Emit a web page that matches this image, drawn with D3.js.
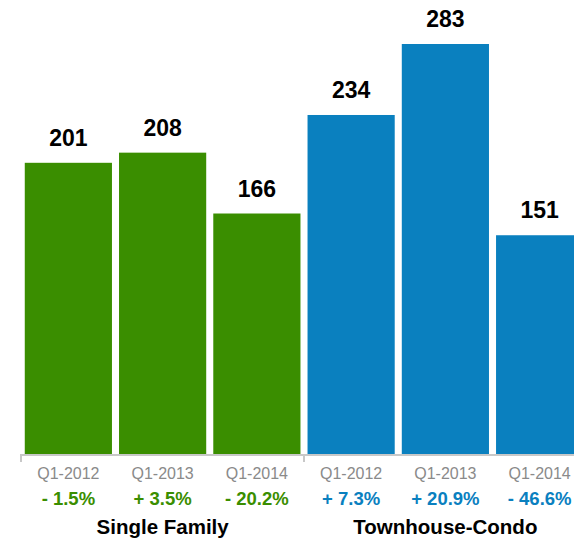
<!DOCTYPE html>
<html>
<head>
<meta charset="utf-8">
<script src="https://cdnjs.cloudflare.com/ajax/libs/d3/7.8.5/d3.min.js"></script>
<style>
  body { margin: 0; background: #fff; }
  .chart { width: 574px; height: 542px; overflow: hidden; }
  text { font-family: Helvetica, "Liberation Sans", Arial, sans-serif; }
</style>
</head>
<body>
<div class="chart"></div>
<script>
var groups = ["Single Family", "Townhouse-Condo"];
var quarters = ["Q1-2012", "Q1-2013", "Q1-2014"];
var singleFamily = [201, 208, 166];
var townhouseCondo = [234, 283, 151];
var sfChange = ["- 1.5%", "+ 3.5%", "- 20.2%"];
var tcChange = ["+ 7.3%", "+ 20.9%", "- 46.6%"];
var groupColors = ["#3a8e00", "#0a80bf"];

var data = [];
quarters.forEach(function(q, i) {
  data.push({key: "sf" + i, group: 0, quarter: q, value: singleFamily[i], change: sfChange[i]});
});
quarters.forEach(function(q, i) {
  data.push({key: "tc" + i, group: 1, quarter: q, value: townhouseCondo[i], change: tcChange[i]});
});

var width = 574, height = 542, baseline = 454;

var svg = d3.select(".chart").append("svg")
    .attr("width", width).attr("height", height);

var x = d3.scaleBand()
    .domain(data.map(function(d) { return d.key; }))
    .range([21, 587])
    .paddingInner(0.075)
    .paddingOuter(0.04);

var y = d3.scaleLinear().domain([0, 283]).range([baseline, 44]);

svg.selectAll(".bar")
  .data(data)
  .enter().append("rect")
    .attr("class", "bar")
    .attr("x", function(d) { return x(d.key); })
    .attr("y", function(d) { return y(d.value); })
    .attr("width", x.bandwidth())
    .attr("height", function(d) { return baseline - y(d.value); })
    .attr("fill", function(d) { return groupColors[d.group]; });

svg.selectAll(".value")
  .data(data)
  .enter().append("text")
    .attr("class", "value")
    .attr("x", function(d) { return x(d.key) + x.bandwidth() / 2; })
    .attr("y", function(d) { return y(d.value) - 17; })
    .attr("text-anchor", "middle")
    .style("font-size", "23px")
    .style("font-weight", "bold")
    .attr("fill", "#000")
    .text(function(d) { return d.value; });

// axis line + group ticks
var axis = svg.append("g").attr("stroke", "#c8c8c8").attr("stroke-width", 2);
axis.append("line").attr("x1", 20).attr("x2", width).attr("y1", 455).attr("y2", 455);
var tickX = [21, (x("sf2") + x.bandwidth() + x("tc0")) / 2];
axis.selectAll(".tick")
  .data(tickX)
  .enter().append("line")
    .attr("x1", function(d) { return d; }).attr("x2", function(d) { return d; })
    .attr("y1", 455).attr("y2", 462);

svg.selectAll(".quarter")
  .data(data)
  .enter().append("text")
    .attr("class", "quarter")
    .attr("x", function(d) { return x(d.key) + x.bandwidth() / 2; })
    .attr("y", 479)
    .attr("text-anchor", "middle")
    .style("font-size", "16px")
    .attr("fill", "#8a8a8a")
    .text(function(d) { return d.quarter; });

svg.selectAll(".change")
  .data(data)
  .enter().append("text")
    .attr("class", "change")
    .attr("x", function(d) { return x(d.key) + x.bandwidth() / 2; })
    .attr("y", 505)
    .attr("text-anchor", "middle")
    .style("font-size", "18.5px")
    .style("font-weight", "bold")
    .attr("fill", function(d) { return groupColors[d.group]; })
    .text(function(d) { return d.change; });

svg.selectAll(".group")
  .data(groups)
  .enter().append("text")
    .attr("class", "group")
    .attr("x", function(d, i) {
      var a = x(i === 0 ? "sf0" : "tc0"), b = x(i === 0 ? "sf2" : "tc2") + x.bandwidth();
      return (a + b) / 2;
    })
    .attr("y", 534)
    .attr("text-anchor", "middle")
    .style("font-size", "20.5px")
    .style("font-weight", "bold")
    .attr("fill", "#000")
    .text(function(d) { return d; });
</script>
</body>
</html>
